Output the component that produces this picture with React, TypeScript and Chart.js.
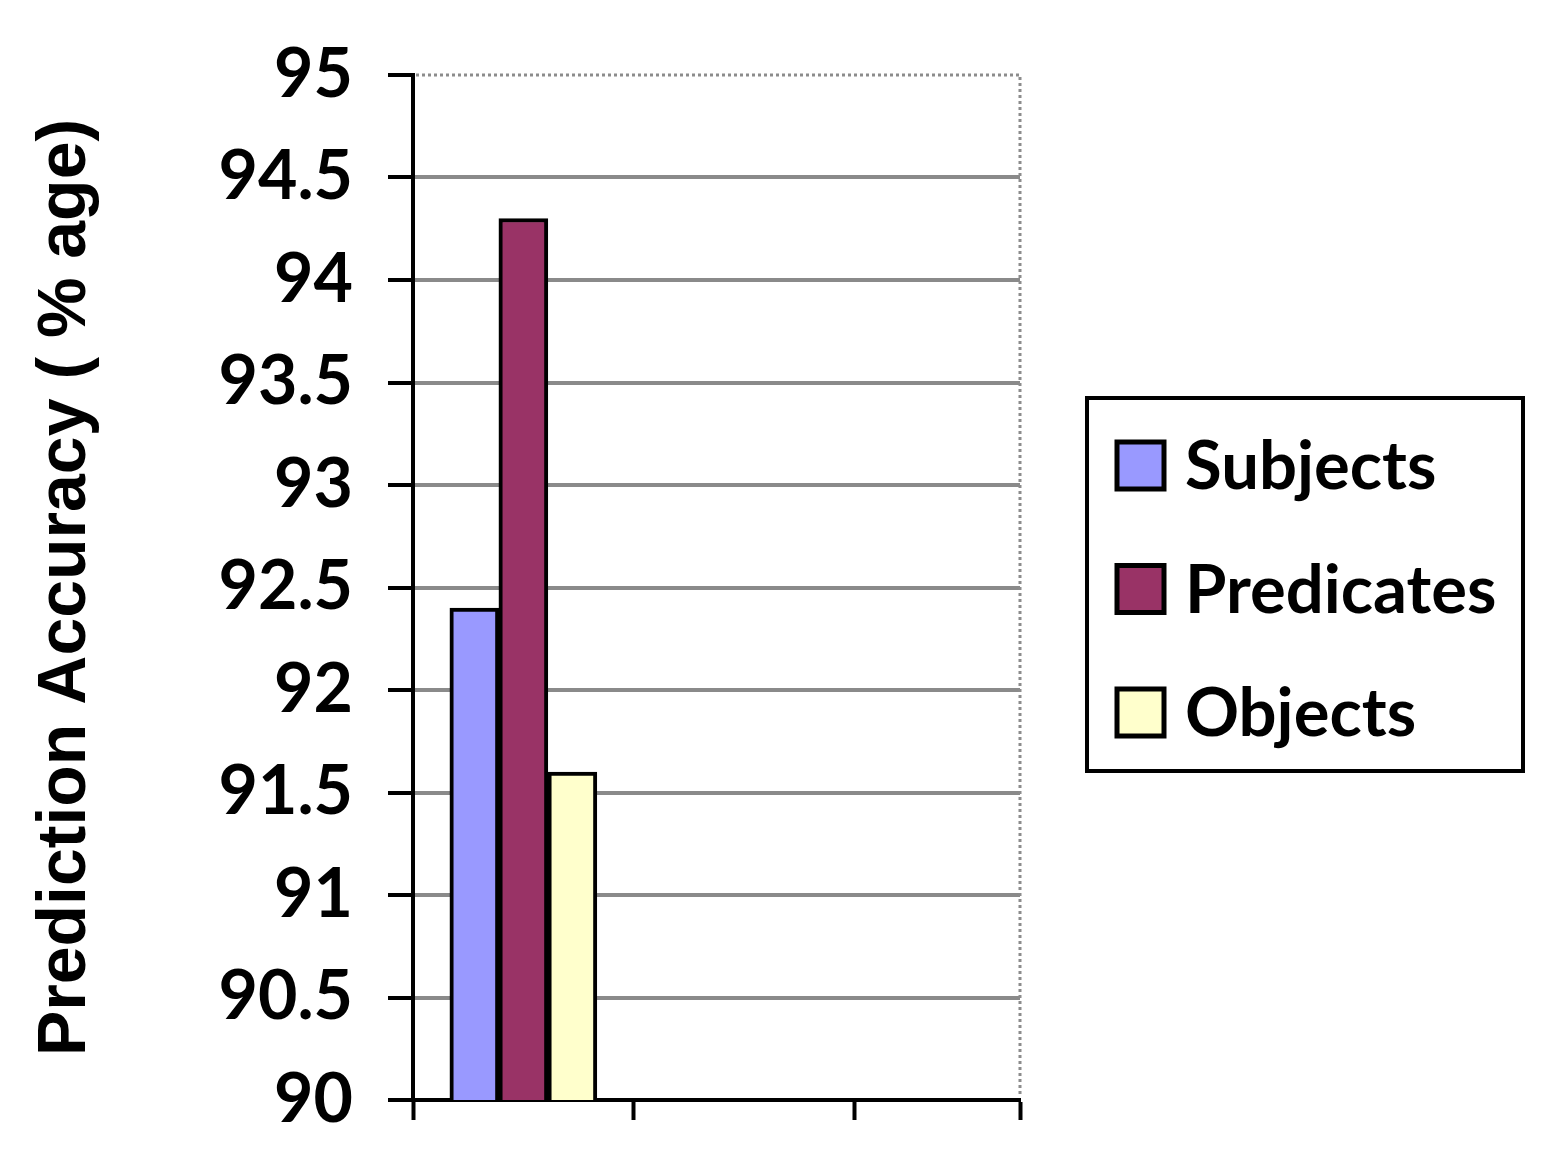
import React, { useEffect, useRef } from 'react';
import { Chart, registerables } from 'chart.js';

Chart.register(...registerables);

// ---- data ----
const categories = [''];
const seriesNames = ['Subjects', 'Predicates', 'Objects'];
const subjects = [92.4];
const predicates = [94.3];
const objects = [91.6];
const seriesColors = ['#9999FF', '#993366', '#FFFFCC'];
const yTickValues = [90, 90.5, 91, 91.5, 92, 92.5, 93, 93.5, 94, 94.5, 95];
const yTickLabels = ['90', '90.5', '91', '91.5', '92', '92.5', '93', '93.5', '94', '94.5', '95'];
const xBoundaries = [0, 1, 2, 2.75];
const yAxisTitle = 'Prediction Accuracy ( % age)';

const seriesValues = [subjects, predicates, objects];

const frameAndLegend = {
  id: 'frameAndLegend',
  afterDraw(chart: any) {
    const { ctx, chartArea } = chart;
    ctx.save();
    // dotted top and right frame
    ctx.strokeStyle = '#8c8c8c';
    ctx.lineWidth = 3;
    ctx.setLineDash([3, 3]);
    ctx.beginPath();
    ctx.moveTo(chartArea.left + 3, chartArea.top);
    ctx.lineTo(chartArea.right, chartArea.top);
    ctx.lineTo(chartArea.right, chartArea.bottom - 3);
    ctx.stroke();
    ctx.setLineDash([]);

    // legend box
    const left = chartArea.right + 67;
    const width = 436;
    const height = 373;
    const top = (chartArea.top + chartArea.bottom) / 2 - 3 - height / 2;
    ctx.lineWidth = 4;
    ctx.strokeStyle = '#000';
    ctx.fillStyle = '#fff';
    ctx.fillRect(left, top, width, height);
    ctx.strokeRect(left, top, width, height);
    chart.data.datasets.forEach((ds: any, i: number) => {
      const cy = top + 67 + i * 123.5;
      ctx.fillStyle = ds.backgroundColor;
      ctx.fillRect(left + 30, cy - 23, 47, 47);
      ctx.lineWidth = 5;
      ctx.strokeStyle = '#000';
      ctx.strokeRect(left + 30, cy - 23, 47, 47);
      ctx.fillStyle = '#000';
      ctx.font = 'bold 67px Lato';
      ctx.textBaseline = 'alphabetic';
      ctx.textAlign = 'left';
      ctx.fillText(ds.label, left + 98, cy + 24);
    });
    ctx.restore();
  },
};

export default function App() {
  const canvasRef = useRef<HTMLCanvasElement | null>(null);

  useEffect(() => {
    const canvas = canvasRef.current;
    if (!canvas) return;
    const datasets = seriesNames.map((name, s) => ({
      label: name,
      data: categories.map((_, i) => ({ x: i + 0.5, y: seriesValues[s][i] })),
      backgroundColor: seriesColors[s],
      borderColor: '#000',
      borderWidth: 4,
      barThickness: 49,
    }));

    const chart = new Chart(canvas, {
      type: 'bar',
      data: { datasets },
      plugins: [frameAndLegend],
      options: {
        animation: false,
        responsive: false,
        devicePixelRatio: 1,
        layout: { padding: { top: 75, right: 544, bottom: 0, left: 0 } },
        plugins: {
          legend: { display: false },
          tooltip: { enabled: false },
        },
        scales: {
          x: {
            type: 'linear',
            min: 0,
            max: xBoundaries[xBoundaries.length - 1],
            offset: false,
            afterBuildTicks: (scale: any) => {
              scale.ticks = xBoundaries.map((v) => ({ value: v }));
            },
            afterFit: (scale: any) => {
              scale.height = 71;
              scale.paddingLeft = 0;
              scale.paddingRight = 0;
            },
            ticks: { display: false },
            grid: {
              offset: false,
              drawOnChartArea: false,
              drawTicks: true,
              tickLength: 20,
              tickColor: '#000',
              tickWidth: 4,
              color: '#000',
            },
            border: { color: '#000', width: 4 },
          },
          y: {
            min: 90,
            max: 95,
            afterBuildTicks: (scale: any) => {
              scale.ticks = yTickValues.map((v) => ({ value: v }));
            },
            afterFit: (scale: any) => {
              scale.width = 413;
              scale.paddingTop = 0;
              scale.paddingBottom = 0;
            },
            ticks: {
              padding: 35,
              color: '#000',
              font: { family: 'Lato', weight: 'bold', size: 68 },
              callback: (v: any) => {
                const idx = yTickValues.indexOf(Number(v));
                return idx >= 0 ? yTickLabels[idx] : '';
              },
            },
            grid: {
              color: (ctx: any) =>
                ctx.tick && (ctx.tick.value === 95 || ctx.tick.value === 90) ? 'rgba(0,0,0,0)' : '#8a8a8a',
              lineWidth: 4,
              tickLength: 25,
              tickColor: '#000',
              tickWidth: 4,
            },
            border: { color: '#000', width: 4 },
            title: {
              display: true,
              text: yAxisTitle,
              color: '#000',
              font: { family: 'Liberation Sans', weight: 'bold', size: 68 },
              padding: { top: 25, bottom: 0 },
            },
          },
        },
      } as any,
    });
    return () => chart.destroy();
  }, []);

  return (
    <div style={{ position: 'fixed', left: 0, top: 0, width: 1564, height: 1171, background: '#fff' }}>
      <canvas ref={canvasRef} width={1564} height={1171} />
    </div>
  );
}
